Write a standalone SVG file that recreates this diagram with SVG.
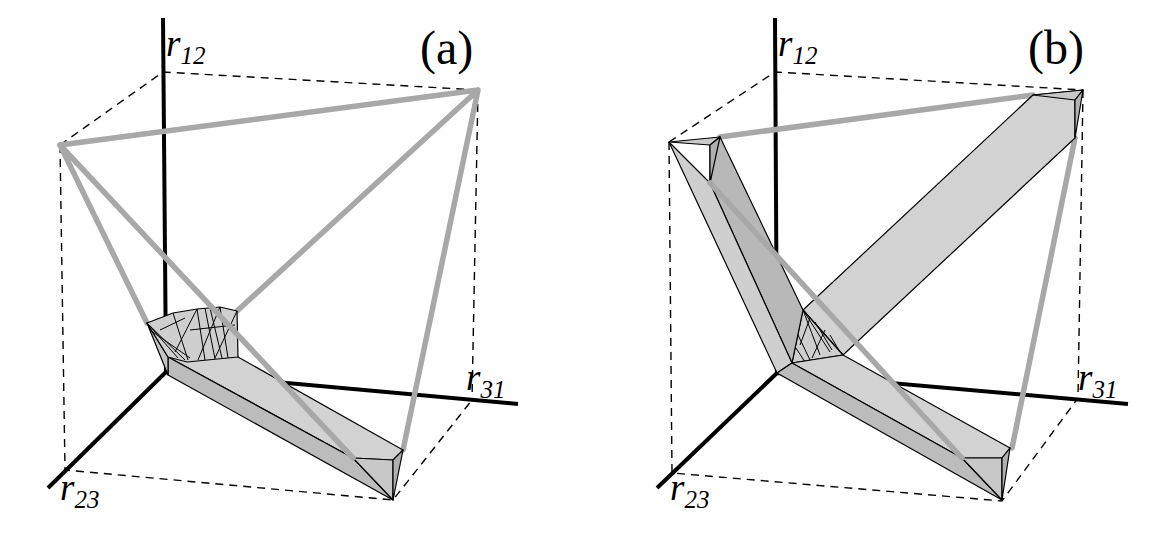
<svg xmlns="http://www.w3.org/2000/svg" width="1172" height="551" viewBox="0 0 1172 551">
<style>
.d{fill:none;stroke:#000;stroke-width:1.4;stroke-dasharray:8,6}
.ax{fill:none;stroke:#000;stroke-width:4}
.g{fill:none;stroke:#a8a8a8;stroke-width:5.5;stroke-linecap:round}
.f{stroke:#000;stroke-width:1.2;stroke-linejoin:round}
.m{fill:none;stroke:#000;stroke-width:1}
.t{font-family:"Liberation Serif",serif;font-style:italic;font-size:37px}
.s{font-size:25px}
.h{font-family:"Liberation Serif",serif;font-size:48px}
</style>
<rect width="1172" height="551" fill="#fff"/>
<g id="panel-a">
<path class="d" d="M60,145 L163,72 L478,90 M60,145 L65,470 L393,500 L472,400 M478,90 L472,400"/>
<path class="ax" d="M163,18 L166,372 L518,404 M166,372 L48,488"/>
<path class="g" d="M60,145 L478,90 M60,145 L147,323 M478,90 L237,311 M478,90 L403,450"/>
<polygon class="f" fill="#d2d2d2" points="147,323 238,357 403,450 393,460 353,458 168,357"/>
<polygon class="f" fill="#bcbcbc" points="168,357 353,458 393,500 168,375"/>
<polygon class="f" fill="#c4c4c4" points="147,323 168,357 168,375"/>
<polygon class="f" fill="#c8c8c8" points="353,458 393,460 393,500"/>
<polygon class="f" fill="#b0b0b0" points="393,460 403,450 393,500"/>
<polygon class="f" fill="#cfcfcf" points="147,323 173,313 197,309 220,307 237,311 238,357 187,362 168,357"/>
<path class="m" d="M147,323 L185,360 M147,323 L178,358 M150,330 L190,358 M173,313 L188,360 M197,309 L175,352 M197,309 L205,360 M205,308 L215,359 M210,308 L222,358 M220,307 L228,358 M220,307 L198,360 M237,311 L215,358 M160,330 L185,318 M190,330 L235,325"/>
<path class="g" d="M60,145 L353,458"/>
<text class="t" x="166" y="56">r<tspan class="s" dy="8">12</tspan></text>
<text class="t" x="466" y="390">r<tspan class="s" dy="8">31</tspan></text>
<text class="t" x="60" y="500">r<tspan class="s" dy="8">23</tspan></text>
<text class="h" x="420" y="64">(a)</text>
</g>
<g id="panel-b">
<path class="d" d="M669,142 L775,72 L1083,90 M669,142 L672,473 L1002,501 L1078,398 M1083,90 L1078,398"/>
<path class="ax" d="M775,18 L777,373 L1128,404 M777,373 L657,488"/>
<path class="g" d="M720,137 L1033,95 M1075,138 L1012,448"/>
<polygon class="f" fill="#d2d2d2" points="803,310 1033,95 1083,90 1075,100 1075,138 843,355"/>
<polygon class="f" fill="#c8c8c8" points="1033,95 1083,90 1075,100"/>
<polygon class="f" fill="#b4b4b4" points="1075,100 1083,90 1075,138"/>
<polygon class="f" fill="#cfcfcf" points="792,363 803,310 843,355"/>
<path class="m" d="M803,310 L820,355 M803,310 L830,352 M810,318 L800,345 M815,322 L832,350 M825,330 L812,358 M830,335 L840,352 M798,335 L810,360 M796,348 L805,362"/>
<polygon class="f" fill="#b8b8b8" points="710,183 710,145 720,137 803,310 792,363"/>
<polygon class="f" fill="#cfcfcf" points="669,142 710,183 792,363 777,373"/>
<polygon class="f" fill="#cacaca" points="669,142 720,137 710,145"/>
<polygon class="f" fill="#b0b0b0" points="710,145 720,137 710,183"/>
<path class="m" d="M669,142 L710,183"/>
<polygon class="f" fill="#d2d2d2" points="792,363 843,355 1010,448 1002,458 962,458"/>
<polygon class="f" fill="#bcbcbc" points="777,373 792,363 962,458 1002,500"/>
<polygon class="f" fill="#c8c8c8" points="962,458 1002,458 1002,500"/>
<polygon class="f" fill="#b0b0b0" points="1002,458 1010,448 1002,500"/>
<path class="g" d="M710,183 L962,458"/>
<text class="t" x="778" y="56">r<tspan class="s" dy="8">12</tspan></text>
<text class="t" x="1078" y="390">r<tspan class="s" dy="8">31</tspan></text>
<text class="t" x="670" y="500">r<tspan class="s" dy="8">23</tspan></text>
<text class="h" x="1028" y="64">(b)</text>
</g>
</svg>
